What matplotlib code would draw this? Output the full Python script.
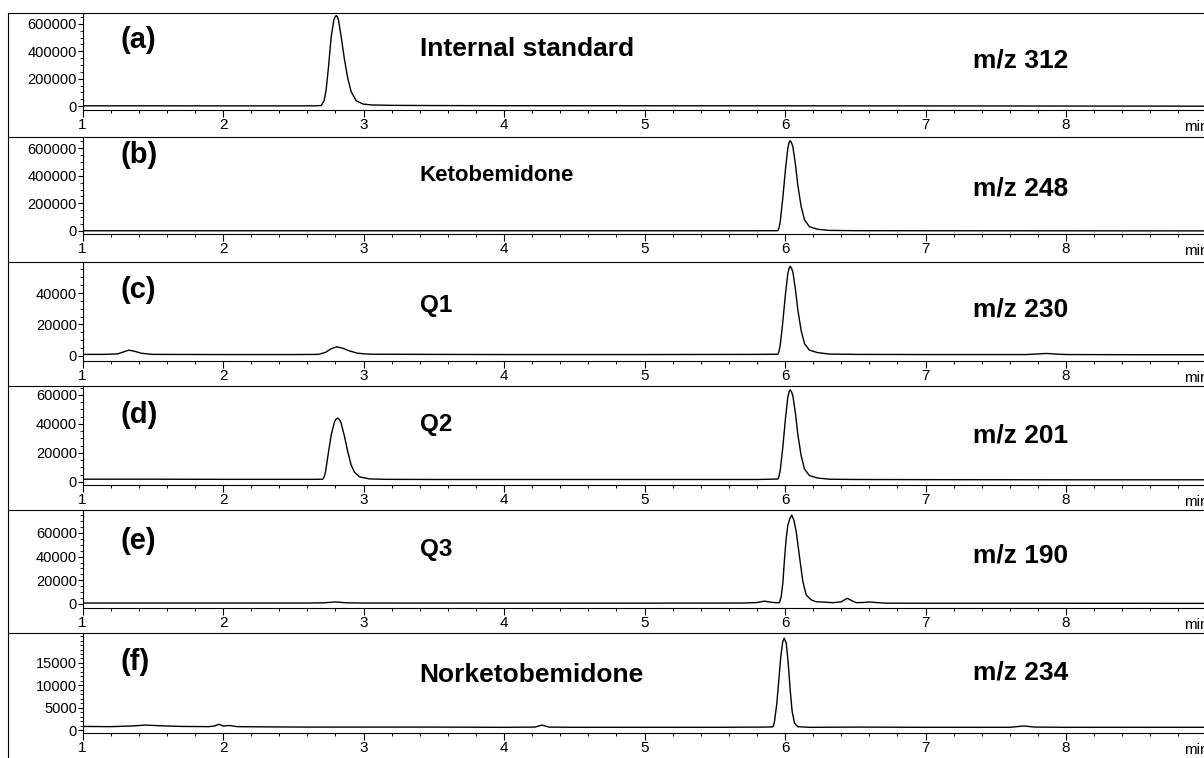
import matplotlib

matplotlib.use("Agg")

import matplotlib.pyplot as plt
from matplotlib.lines import Line2D
from matplotlib.ticker import MultipleLocator, FixedLocator

plt.rcParams["font.family"] = ["Liberation Sans", "DejaVu Sans"]

# retention time (min) / abundance
t_a = [1.0, 1.5, 2.0, 2.5, 2.65, 2.70, 2.72, 2.734, 2.751, 2.770, 2.789, 2.798, 2.806,
       2.814, 2.822, 2.841, 2.865, 2.888, 2.912, 2.948, 2.995, 3.055, 3.2, 3.5, 4.0,
       5.0, 6.0, 7.0, 8.0, 8.98]
i_a = [1500, 1500, 1200, 1200, 1500, 4000, 40000, 117000, 287000, 507000, 629000, 652000,
       661000, 652000, 629000, 507000, 337000, 203000, 105000, 39000, 15000, 8000, 5000,
       3500, 2500, 2000, 1500, 1000, 0, -1000]

t_b = [1.0, 2.0, 3.0, 4.0, 5.0, 5.8, 5.949, 5.957, 5.966, 5.984, 6.004, 6.020, 6.029,
       6.037, 6.046, 6.056, 6.075, 6.091, 6.115, 6.139, 6.174, 6.233, 6.317, 6.5, 7.0,
       8.0, 8.98]
i_b = [1500, 1500, 1500, 1500, 1500, 1500, 2000, 20000, 67000, 236000, 453000, 598000,
       640000, 653000, 640000, 609000, 477000, 332000, 176000, 80000, 31000, 12000, 4000,
       2000, 1500, 1000, 500]

t_c = [1.0, 1.15, 1.25, 1.29, 1.33, 1.37, 1.42, 1.5, 2.0, 2.5, 2.68, 2.73, 2.77, 2.81,
       2.85, 2.9, 2.96, 3.05, 3.5, 4.0, 5.0, 5.8, 5.949, 5.957, 5.966, 5.984, 6.004,
       6.020, 6.029, 6.037, 6.046, 6.056, 6.075, 6.091, 6.115, 6.139, 6.174, 6.233,
       6.317, 6.5, 7.0, 7.72, 7.80, 7.86, 7.93, 8.0, 8.5, 8.98]
i_c = [1000, 1000, 1300, 2500, 3700, 3000, 1700, 1000, 900, 900, 1000, 2300, 4600, 5800,
       5000, 3200, 1700, 1100, 1000, 900, 900, 1000, 1100, 2800, 6800, 21300, 39900,
       52300, 55700, 57000, 55800, 53300, 41900, 29500, 16100, 7800, 3700, 2100, 1200,
       1000, 900, 900, 1300, 1600, 1200, 900, 800, 800]

t_d = [1.0, 1.5, 2.0, 2.5, 2.65, 2.710, 2.72, 2.730, 2.746, 2.770, 2.794, 2.806, 2.817,
       2.829, 2.841, 2.865, 2.888, 2.912, 2.936, 2.972, 3.043, 3.162, 3.5, 4.0, 5.0,
       5.8, 5.949, 5.957, 5.966, 5.984, 6.004, 6.020, 6.029, 6.037, 6.046, 6.056, 6.075,
       6.091, 6.115, 6.139, 6.174, 6.233, 6.317, 6.5, 7.0, 8.0, 8.98]
i_d = [1900, 1900, 1800, 1800, 1800, 1900, 3500, 7100, 17500, 32400, 41600, 43500, 44000,
       43000, 40500, 31300, 20900, 11700, 6700, 3500, 2100, 1800, 1700, 1700, 1700,
       1700, 2000, 3800, 8000, 23500, 44500, 58300, 62200, 63500, 62300, 59400, 46800,
       33000, 18000, 8900, 4400, 2700, 1900, 1700, 1600, 1500, 1500]

t_e = [1.0, 2.0, 2.6, 2.72, 2.8, 2.88, 3.0, 4.0, 5.0, 5.7, 5.80, 5.854, 5.90, 5.94,
       5.961, 5.973, 5.985, 5.996, 6.008, 6.020, 6.034, 6.048, 6.064, 6.080, 6.103,
       6.127, 6.151, 6.187, 6.22, 6.34, 6.40, 6.443, 6.48, 6.507, 6.56, 6.60, 6.65,
       6.72, 7.0, 8.0, 8.98]
i_e = [800, 800, 800, 1000, 1700, 1000, 800, 700, 700, 800, 1200, 2400, 1500, 1000,
       1200, 6200, 18000, 37200, 55000, 66500, 72000, 75200, 70500, 61000, 40000,
       19000, 7600, 3400, 1950, 1100, 1800, 4800, 2500, 1100, 1300, 1700, 1200, 700,
       600, 600, 500]

t_f = [1.0, 1.2, 1.35, 1.45, 1.55, 1.7, 1.9, 1.94, 1.97, 2.0, 2.05, 2.1, 2.3, 2.6, 3.0,
       3.5, 4.0, 4.22, 4.27, 4.32, 4.5, 5.0, 5.5, 5.85, 5.913, 5.918, 5.925, 5.942,
       5.956, 5.970, 5.984, 5.994, 6.009, 6.023, 6.037, 6.051, 6.068, 6.091, 6.174,
       6.5, 7.0, 7.6, 7.70, 7.78, 8.0, 8.5, 8.98]
i_f = [800, 750, 900, 1100, 950, 800, 750, 900, 1280, 900, 1000, 750, 700, 650, 650,
       650, 600, 650, 1100, 650, 600, 600, 600, 650, 700, 1000, 1860, 5980, 11200,
       16400, 19780, 20540, 19420, 14940, 8960, 4100, 1500, 740, 600, 650, 600, 600,
       900, 650, 600, 600, 600]

panel_tags = ["(a)", "(b)", "(c)", "(d)", "(e)", "(f)"]
compounds = ["Internal standard", "Ketobemidone", "Q1", "Q2", "Q3", "Norketobemidone"]
ions = ["m/z 312", "m/z 248", "m/z 230", "m/z 201", "m/z 190", "m/z 234"]
y_major = [
    [0, 200000, 400000, 600000],
    [0, 200000, 400000, 600000],
    [0, 20000, 40000],
    [0, 20000, 40000, 60000],
    [0, 20000, 40000, 60000],
    [0, 5000, 10000, 15000],
]
y_minor_step = [50000, 50000, 5000, 5000, 5000, 1000]
y_limits = [(-29000, 680000), (-22000, 680000), (-3200, 59700),
            (-2100, 66200), (-3400, 79400), (-670, 21700)]

traces = [(t_a, i_a), (t_b, i_b), (t_c, i_c), (t_d, i_d), (t_e, i_e), (t_f, i_f)]

# layout in pixels of the 1204 x 758 page
W, H = 1204, 758
panel_top = [13, 137, 262, 386, 510, 633]
panel_h = [97, 97, 99, 99, 98, 100]
tag_y = [0.72, 0.81, 0.72, 0.71, 0.685, 0.71]
name_y = [0.63, 0.60, 0.565, 0.61, 0.60, 0.58]
ion_y = [0.515, 0.47, 0.525, 0.495, 0.54, 0.61]
name_size = [19, 16, 17.5, 17.5, 17.5, 19]
left_px = 82.5
x_max = 1 + (W - left_px) / 140.5

fig = plt.figure(figsize=(W / 100, H / 100), dpi=100)

for k in range(6):
    top, h = panel_top[k], panel_h[k]
    ax = fig.add_axes([left_px / W, 1 - (top + h) / H, 1 - left_px / W, h / H])
    t, inten = traces[k]
    ax.plot(t, inten, color="black", linewidth=1.0)
    ax.set_xlim(1, x_max)
    ax.set_ylim(*y_limits[k])

    for side in ["top", "right"]:
        ax.spines[side].set_visible(False)
    for side in ["left", "bottom"]:
        ax.spines[side].set_linewidth(0.8)

    ax.xaxis.set_major_locator(MultipleLocator(1))
    ax.xaxis.set_minor_locator(MultipleLocator(0.2))
    ax.yaxis.set_major_locator(FixedLocator(y_major[k]))
    ax.yaxis.set_minor_locator(MultipleLocator(y_minor_step[k]))
    ax.tick_params(axis="x", which="major", length=5, width=0.8, pad=0.5, labelsize=11)
    ax.tick_params(axis="x", which="minor", length=2.5, width=0.7)
    ax.tick_params(axis="y", which="major", length=3.5, width=0.8, pad=0.5, labelsize=10.5)
    ax.tick_params(axis="y", which="minor", length=2, width=0.6)

    trans = ax.get_xaxis_transform()
    ax.text(1.27, tag_y[k], panel_tags[k], transform=trans, fontsize=21,
            fontweight="bold", va="center", ha="left")
    ax.text(3.40, name_y[k], compounds[k], transform=trans, fontsize=name_size[k],
            fontweight="bold", va="center", ha="left")
    ax.text(7.34, ion_y[k], ions[k], transform=trans, fontsize=19,
            fontweight="bold", va="center", ha="left")
    ax.text(8.84, -17 / h, "min", transform=trans, fontsize=11,
            va="center", ha="left", clip_on=False)

# outer frame and panel separators
fig.add_artist(Line2D([8 / W, 8 / W], [1 - 13 / H, 0], transform=fig.transFigure,
                      color="black", linewidth=0.8))
for top in panel_top:
    fig.add_artist(Line2D([8 / W, 1], [1 - top / H, 1 - top / H],
                          transform=fig.transFigure, color="black", linewidth=0.8))

fig.savefig("out.png", dpi=100)
plt.close(fig)
